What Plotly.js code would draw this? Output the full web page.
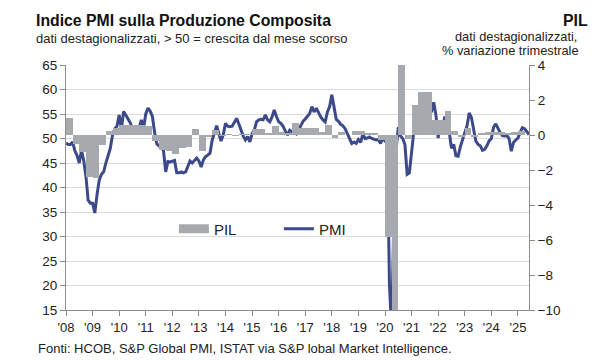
<!DOCTYPE html>
<html>
<head>
<meta charset="utf-8">
<script src="https://cdn.plot.ly/plotly-3.0.1.min.js"></script>
<style>html,body{margin:0;padding:0;background:#fff;}#chart{width:600px;height:360px;}</style>
</head>
<body>
<div id="chart"></div>
<script>
// Monthly PMI, Jan 2008 .. Jun 2025
const pmi2008 = [49.1, 48.8, 48.8, 49.3, 47.5, 46.5, 45.0, 47.6, 45.5, 42.2, 37.4, 36.8];
const pmi2009 = [36.8, 34.8, 38.5, 41.5, 42.7, 43.2, 45.0, 46.5, 48.0, 50.7, 52.0, 52.5];
const pmi2010 = [54.8, 51.9, 55.5, 54.8, 54.0, 53.2, 52.0, 51.8, 52.0, 52.2, 53.8, 52.0];
const pmi2011 = [55.0, 56.2, 55.6, 54.5, 51.2, 48.9, 48.5, 48.0, 47.6, 43.2, 45.3, 45.2];
const pmi2012 = [45.3, 45.5, 43.0, 43.0, 43.2, 43.0, 43.2, 44.3, 45.4, 45.0, 45.6, 46.0];
const pmi2013 = [45.4, 44.2, 45.6, 46.3, 46.6, 47.0, 49.7, 51.0, 52.6, 51.0, 49.5, 50.8];
const pmi2014 = [53.1, 52.5, 52.4, 52.5, 53.4, 54.1, 53.0, 51.5, 50.5, 49.7, 50.4, 49.3];
const pmi2015 = [51.0, 51.7, 53.4, 53.8, 53.9, 53.8, 54.8, 53.8, 53.4, 54.4, 55.8, 54.5];
const pmi2016 = [53.4, 53.1, 52.5, 51.5, 50.7, 51.7, 51.4, 51.5, 51.0, 51.8, 52.8, 53.5];
const pmi2017 = [54.0, 54.5, 55.1, 56.5, 55.4, 56.2, 55.1, 54.4, 53.8, 53.4, 55.4, 56.5];
const pmi2018 = [58.9, 56.0, 53.9, 53.5, 52.9, 52.6, 52.0, 51.0, 50.0, 49.0, 49.3, 49.0];
const pmi2019 = [49.8, 49.2, 50.9, 50.0, 50.1, 50.3, 50.0, 49.8, 49.7, 49.8, 49.0, 50.0];
const pmi2020 = [49.5, 50.4, 20.2, 10.9, 33.9, 47.6, 52.3, 50.5, 50.0, 48.7, 42.7, 43.0];
const pmi2021 = [47.2, 51.4, 51.9, 51.2, 55.7, 58.3, 58.8, 57.3, 55.0, 55.5, 57.4, 54.7];
const pmi2022 = [50.1, 53.6, 52.1, 54.5, 52.4, 51.3, 48.0, 48.8, 46.5, 46.4, 48.3, 49.9];
const pmi2023 = [51.2, 52.5, 55.2, 54.3, 51.5, 49.5, 48.8, 48.5, 47.6, 47.8, 48.5, 49.5];
const pmi2024 = [50.0, 52.3, 53.0, 52.0, 51.2, 50.6, 50.5, 50.6, 50.0, 47.4, 49.2, 49.7];
const pmi2025 = [50.1, 51.2, 52.2, 52.0, 51.5, 50.8];

// Quarterly GDP (PIL) % q/q, 2008 Q1 .. 2025 Q1
const pil2008 = [1.0, -0.5, -0.95, -2.4];
const pil2009 = [-2.45, -0.55, 0.25, 0.4];
const pil2010 = [0.55, 0.6, 0.55, 0.6];
const pil2011 = [0.5, -0.35, -0.85, -0.9];
const pil2012 = [-1.1, -0.75, -0.7, 0.35];
const pil2013 = [-0.9, -0.1, 0.3, -0.05];
const pil2014 = [0.05, -0.05, 0.05, 0.05];
const pil2015 = [0.35, 0.35, 0.1, 0.5];
const pil2016 = [0.15, 0.1, 0.7, 0.4];
const pil2017 = [0.4, 0.4, 0.15, 0.55];
const pil2018 = [-0.15, 0.2, 0.0, 0.25];
const pil2019 = [0.25, 0.1, 0.1, -0.3];
const pil2020 = [-5.8, -13.0, 16.0, -0.2];
const pil2021 = [1.7, 2.45, 2.45, 0.85];
const pil2022 = [0.85, 1.4, 0.25, -0.1];
const pil2023 = [0.4, -0.1, 0.1, 0.15];
const pil2024 = [0.2, 0.15, 0.1, 0.15];
const pil2025 = [0.25];

const yearLabels = ["'08","'09","'10","'11","'12","'13","'14","'15","'16","'17","'18","'19","'20","'21","'22","'23","'24","'25"];
const startYear = 2008;

const pmi = [].concat(pmi2008,pmi2009,pmi2010,pmi2011,pmi2012,pmi2013,pmi2014,pmi2015,pmi2016,pmi2017,pmi2018,pmi2019,pmi2020,pmi2021,pmi2022,pmi2023,pmi2024,pmi2025);
const pil = [].concat(pil2008,pil2009,pil2010,pil2011,pil2012,pil2013,pil2014,pil2015,pil2016,pil2017,pil2018,pil2019,pil2020,pil2021,pil2022,pil2023,pil2024,pil2025);

const pmiX = pmi.map((_, i) => startYear + i / 12);
const pilX = pil.map((_, i) => startYear + i / 4 + 0.125);
const tickVals = yearLabels.map((_, i) => startYear + i);

const FONT = "Liberation Sans, Arial, sans-serif";
const BAR = "#a6aaae";
const LINE = "#3c4a8b";
const AX = "#8c8c8c";

// plot area in pixels: x 66..529.5, y 65..310
const L = 66, R = 529.5, T = 65, B = 310;
const px = v => (v - L) / (R - L);
const py = v => (B - v) / (B - T);

const traces = [
  {type: 'bar', x: pilX, y: pil, width: pil.map(() => 0.25), yaxis: 'y2',
   marker: {color: BAR, line: {width: 0}}, showlegend: false, name: 'PIL', hoverinfo: 'skip'},
  {type: 'scatter', mode: 'lines', x: [null], y: [null], yaxis: 'y2', name: 'PIL',
   line: {color: BAR, width: 9}, showlegend: true},
  {type: 'scatter', mode: 'lines', x: pmiX, y: pmi, name: 'PMI',
   line: {color: LINE, width: 3}, showlegend: true}
];

const layout = {
  width: 600, height: 360,
  margin: {l: L, r: 600 - R, t: T, b: 360 - B, pad: 0},
  paper_bgcolor: '#fff', plot_bgcolor: '#fff',
  font: {family: FONT, size: 13, color: '#222'},
  bargap: 0,
  showlegend: true,
  legend: {orientation: 'h', x: px(174), xanchor: 'left', y: py(229), yanchor: 'middle',
           font: {family: FONT, size: 15, color: '#222'}, bgcolor: 'rgba(0,0,0,0)',
           entrywidth: 60, traceorder: 'normal', itemclick: false},
  xaxis: {range: [startYear, startYear + (pmi.length - 1) / 12], tickmode: 'array',
          tickvals: tickVals, ticktext: yearLabels, ticks: 'outside', ticklen: 5,
          tickcolor: AX, showline: true, linecolor: AX, linewidth: 1,
          showgrid: false, zeroline: false, tickfont: {size: 13, color: '#222'}},
  yaxis: {range: [15, 65], tick0: 15, dtick: 5, ticks: 'outside', ticklen: 5, tickcolor: AX,
          showline: true, linecolor: AX, showgrid: true, gridcolor: '#dcdcdc', gridwidth: 1,
          zeroline: false, tickfont: {size: 13.5, color: '#222'}},
  yaxis2: {range: [-10, 4], tick0: -10, dtick: 2, overlaying: 'y', side: 'right',
           ticks: 'outside', ticklen: 5, tickcolor: AX, showline: true, linecolor: AX,
           showgrid: false, zeroline: false, tickfont: {size: 13.5, color: '#222'}},
  annotations: [
    {xref: 'paper', yref: 'paper', x: px(34), y: py(20), xanchor: 'left', yanchor: 'middle',
     text: '<b>Indice PMI sulla Produzione Composita</b>', showarrow: false,
     font: {family: FONT, size: 15.8, color: '#111'}},
    {xref: 'paper', yref: 'paper', x: px(34), y: py(38), xanchor: 'left', yanchor: 'middle',
     text: 'dati destagionalizzati, &gt; 50 = crescita dal mese scorso', showarrow: false,
     font: {family: FONT, size: 13, color: '#222'}},
    {xref: 'paper', yref: 'paper', x: px(591), y: py(20), xanchor: 'right', yanchor: 'middle',
     text: '<b>PIL</b>', showarrow: false, font: {family: FONT, size: 15.8, color: '#111'}},
    {xref: 'paper', yref: 'paper', x: px(580), y: py(37), xanchor: 'right', yanchor: 'middle',
     text: 'dati destagionalizzati,', showarrow: false, font: {family: FONT, size: 12.8, color: '#222'}},
    {xref: 'paper', yref: 'paper', x: px(582), y: py(51), xanchor: 'right', yanchor: 'middle',
     text: '% variazione trimestrale', showarrow: false, font: {family: FONT, size: 12.8, color: '#222'}},
    {xref: 'paper', yref: 'paper', x: px(36), y: py(348), xanchor: 'left', yanchor: 'middle',
     text: 'Fonti: HCOB, S&amp;P Global PMI, ISTAT via S&amp;P lobal Market Intelligence.', showarrow: false,
     font: {family: FONT, size: 13, color: '#222'}}
  ]
};

Plotly.newPlot('chart', traces, layout, {staticPlot: true, displayModeBar: false});
</script>
</body>
</html>
